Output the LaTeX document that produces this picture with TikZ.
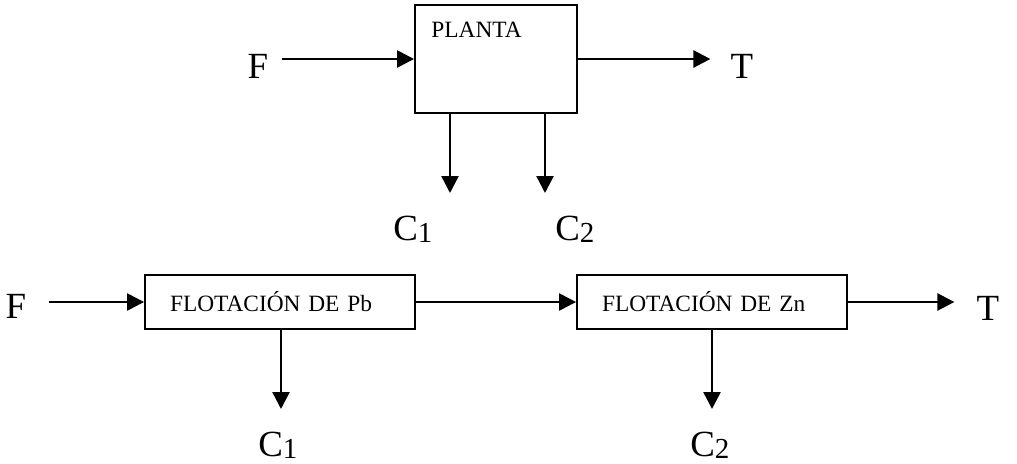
\documentclass[tikz,border=0pt]{standalone}
\usepackage{fontspec}
\setmainfont{Liberation Serif}
\usetikzlibrary{arrows.meta,positioning}
\newcommand{\streamsub}[1]{\raisebox{-1.2pt}{\fontsize{16.5}{18}\selectfont #1}}
\tikzset{
    unitbox/.style={
        draw=black,
        line width=1.1pt,
        inner sep=0pt
    },
    flotationbox/.style={
        unitbox,
        minimum width=5.4cm,
        minimum height=1.08cm,
        inner xsep=0.5cm,
        text width=4.4cm,
        align=left,
        font=\fontsize{13.3}{15}\selectfont
    },
    unitname/.style={
        inner sep=0pt,
        font=\fontsize{13.3}{15}\selectfont
    },
    streamname/.style={
        inner sep=0pt,
        font=\fontsize{21}{24}\selectfont
    },
    flowarrow/.style={
        -{Triangle[length=3.4mm,width=3.4mm]},
        draw=black,
        line width=1.4pt
    }
}

\begin{document}
\begin{tikzpicture}[x=0.02cm,y=-0.02cm]
    \useasboundingbox (0,0) rectangle (1017,463);

    % planta global
    \node[unitbox,minimum width=3.24cm,minimum height=2.16cm] (planta) at (496,59) {};
    \node[unitname,below right=0.36cm and 0.34cm of planta.north west] (plantaname) {PLANTA};
    \node[streamname] (feedtop) at (258,66) {F};
    \node[streamname] (tailtop) at (742,66) {T};
    \node[streamname,anchor=base west] (conctopa) at (393,240) {C\streamsub{1}};
    \node[streamname,anchor=base west] (conctopb) at (555,240) {C\streamsub{2}};
    \coordinate (conctopaend) at (450,193);
    \coordinate (conctopbend) at (545,193);

    \draw[flowarrow] ([xshift=0.26cm]feedtop.east |- planta.west) -- (planta.west);
    \draw[flowarrow] (planta.east) -- ([xshift=-0.4cm]tailtop.west |- planta.east);
    \draw[flowarrow] (conctopaend |- planta.south) -- (conctopaend);
    \draw[flowarrow] (conctopbend |- planta.south) -- (conctopbend);

    % dos etapas de flotacion
    \node[flotationbox] (flotpb) at (280,302) {FLOTACIÓN DE Pb};
    \node[flotationbox] (flotzn) at (712,302) {FLOTACIÓN DE Zn};
    \node[streamname] (feedbot) at (16,306) {F};
    \node[streamname] (tailbot) at (988,308) {T};
    \node[streamname,anchor=base west] (concbota) at (258,456) {C\streamsub{1}};
    \node[streamname,anchor=base west] (concbotb) at (690,456) {C\streamsub{2}};
    \coordinate (concbotaend) at (281,409);
    \coordinate (concbotbend) at (712,409);

    \draw[flowarrow] ([xshift=0.44cm]feedbot.east |- flotpb.west) -- (flotpb.west);
    \draw[flowarrow] (flotpb.east) -- (flotzn.west);
    \draw[flowarrow] (flotzn.east) -- ([xshift=-0.44cm]tailbot.west |- flotzn.east);
    \draw[flowarrow] (concbotaend |- flotpb.south) -- (concbotaend);
    \draw[flowarrow] (concbotbend |- flotzn.south) -- (concbotbend);
\end{tikzpicture}
\end{document}
